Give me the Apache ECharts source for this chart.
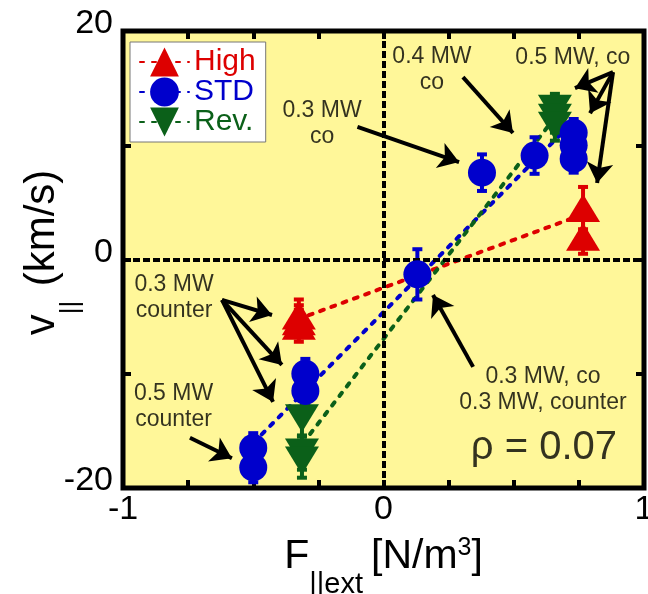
<!DOCTYPE html>
<html><head><meta charset="utf-8">
<script src="https://cdn.jsdelivr.net/npm/echarts@6/dist/echarts.min.js"></script>
<style>html,body{margin:0;padding:0;background:#fff}#c{width:648px;height:594px}</style>
</head><body><div id="c"></div>
<script>
// ---- data ----
const xTickLabels = [-1, 0, 1];
const yTickLabels = [-20, 0, 20];
// points: [F_||ext, v_||, error]
const highPts = [[-0.325,-4.9,1.4],[-0.325,-5.4,1.4],[-0.325,-5.8,1.4],[0.766,4.5,1.85],[0.766,2.0,1.5]];
const stdPts  = [[-0.5,-16.5,1.3],[-0.5,-18.2,1.3],[-0.3,-10.0,1.3],[-0.3,-11.5,1.3],[0.13,-1.3,2.2],[0.378,7.6,1.6],[0.58,9.1,1.6],[0.73,11.1,1.2],[0.73,10.0,1.2],[0.73,8.8,1.2]];
const revPts  = [[-0.313,-13.9,1.6],[-0.313,-16.9,1.5],[-0.313,-17.6,1.5],[0.658,13.2,1.3],[0.658,12.4,1.3],[0.658,11.7,1.3]];
// linear fits (end points)
const highFit = [[-0.33,-5.24],[0.766,3.95]];
const stdFit  = [[-0.5,-16.05],[0.73,12.1]];
const revFit  = [[-0.31,-16.1],[0.66,12.5]];
// annotations
const notes = [
  ['0.3 MW\nco', -0.236, 11.9],
  ['0.4 MW\nco', 0.186, 16.6],
  ['0.5 MW, co', 0.727, 17.7],
  ['0.3 MW\ncounter', -0.804, -3.3],
  ['0.5 MW\ncounter', -0.806, -12.9],
  ['0.3 MW, co\n0.3 MW, counter', 0.612, -11.4]
];
const rhoNote = ['ρ = 0.07', 0.616, -16.5];
const arrows = [
  [[-0.10,11.6],[0.29,8.53]],
  [[0.305,15.97],[0.497,11.07]],
  [[0.881,16.4],[0.735,15.0]],
  [[0.881,16.4],[0.793,12.8]],
  [[0.881,16.4],[0.820,6.7]],
  [[-0.62,-3.54],[-0.428,-4.86]],
  [[-0.62,-3.54],[-0.39,-9.23]],
  [[-0.62,-3.54],[-0.424,-12.47]],
  [[-0.743,-15.6],[-0.582,-17.4]],
  [[0.344,-9.4],[0.19,-3.1]]
];

// ---- styles ----
const FF = 'Liberation Sans, Arial, Helvetica, sans-serif';
const RED = '#DD0000', BLUE = '#0000CC', GREEN = '#0B6019';
const DOWN = 'path://M0,0L20,0L10,17Z';

function errRender(color){
  return function(params, api){
    const x = api.value(0), y = api.value(1), e = api.value(2);
    const t = api.coord([x, y + e]), b = api.coord([x, y - e]);
    const hw = 5, st = {stroke: color, lineWidth: 4};
    return {type:'group', children:[
      {type:'line', shape:{x1:t[0],y1:t[1],x2:b[0],y2:b[1]}, style:st},
      {type:'line', shape:{x1:t[0]-hw,y1:t[1],x2:t[0]+hw,y2:t[1]}, style:st},
      {type:'line', shape:{x1:b[0]-hw,y1:b[1],x2:b[0]+hw,y2:b[1]}, style:st}
    ]};
  };
}
function errSeries(pts, color, z){
  return {type:'custom', renderItem: errRender(color), data: pts, z: z, silent: true,
          encode:{x:0, y:1}};
}
function fitSeries(name, pts, color, symbol){
  return {name:name, type:'line', data: pts, showSymbol:false, symbol:symbol, color:color,
          lineStyle:{color:color, width:4, type:[4,8], cap:'round'}, z:2, silent:true};
}
function ptSeries(pts, color, symbol, size, z){
  return {type:'scatter', data: pts.map(p=>[p[0],p[1]]), symbol:symbol, symbolSize:size,
          itemStyle:{color:color, opacity:1}, z:z, silent:true};
}

const chart = echarts.init(document.getElementById('c'), null, {renderer:'canvas'});
const axisCommon = {
  axisLine:{show:false, onZero:false}, splitLine:{show:false}, nameMoveOverlap:false,
  axisTick:{show:true, inside:true, length:8, lineStyle:{color:'#000', width:4}}
};
chart.setOption({
  animation:false,
  backgroundColor:'#fff',
  grid:{left:123, right:4, top:31, bottom:106, show:true, backgroundColor:'#FFF799',
        borderColor:'#000', borderWidth:5, containLabel:false, outerBoundsMode:'none'},
  legend:{
    data:[{name:'High', textStyle:{color:RED}}, {name:'STD', textStyle:{color:BLUE}}, {name:'Rev.', textStyle:{color:GREEN}}],
    orient:'vertical', left:130, top:42, itemGap:0, itemWidth:49, itemHeight:36,
    padding:[5,10,5,9], backgroundColor:'#fff', borderColor:'#777', borderWidth:1,
    textStyle:{fontSize:30, fontFamily:FF}, selectedMode:false
  },
  xAxis:[
    Object.assign({}, axisCommon, {type:'value', position:'bottom', min:-1, max:1, interval:0.25,
      axisLabel:{show:true, margin:5, fontSize:34, fontFamily:FF, color:'#000',
        formatter: v => xTickLabels.includes(v) ? String(v) : ''},
      name:'{a|F}{b|||ext }{a|[N/m}{c|3}{a|]}', nameLocation:'middle', nameGap:48,
      nameTextStyle:{color:'#000', fontFamily:FF, rich:{
        a:{fontSize:41, lineHeight:44, verticalAlign:'top', fontFamily:FF, color:'#000'},
        b:{fontSize:29, lineHeight:29, padding:[34,0,0,0], verticalAlign:'top', fontFamily:FF, color:'#000'},
        c:{fontSize:25, lineHeight:25, padding:[0,0,0,0], verticalAlign:'top', fontFamily:FF, color:'#000'}
      }}}),
    Object.assign({}, axisCommon, {type:'value', position:'top', min:-1, max:1, interval:0.25,
      axisLabel:{show:false}})
  ],
  yAxis:[
    Object.assign({}, axisCommon, {type:'value', position:'left', min:-20, max:20, interval:10,
      axisLabel:{show:true, margin:10, color:'#000',
        formatter: v => yTickLabels.includes(v) ? '{t|' + v + '}' : '',
        rich:{t:{fontSize:34, lineHeight:34, fontFamily:FF, color:'#000', padding:[0,0,14,0]}}},
      name:'{a|v}{b|||  }{a|(km/s)}', nameLocation:'middle', nameGap:58, nameRotate:90,
      nameTextStyle:{color:'#000', fontFamily:FF, padding:[0,0,0,14], rich:{
        a:{fontSize:42, lineHeight:44, verticalAlign:'top', fontFamily:FF, color:'#000'},
        b:{fontSize:26, lineHeight:26, padding:[37,0,0,0], verticalAlign:'top', fontFamily:FF, color:'#000'}
      }}}),
    Object.assign({}, axisCommon, {type:'value', position:'right', min:-20, max:20, interval:10,
      axisLabel:{show:false}})
  ],
  series:[
    {type:'scatter', data:[[0,0]], symbolSize:0, z:1, silent:true,
     markLine:{silent:true, symbol:'none', label:{show:false}, animation:false,
       lineStyle:{color:'#000', width:4, type:[7,3]},
       data:[{xAxis:0},{yAxis:0}]}},
    fitSeries('High', highFit, RED, 'triangle'),
    fitSeries('STD', stdFit, BLUE, 'circle'),
    fitSeries('Rev.', revFit, GREEN, DOWN),
    errSeries(highPts, RED, 3),
    errSeries(revPts, GREEN, 3),
    errSeries(stdPts, BLUE, 3),
    ptSeries(highPts, RED, 'triangle', [34,28], 4),
    ptSeries(revPts, GREEN, DOWN, [34,28], 5),
    ptSeries(stdPts, BLUE, 'circle', 28, 6),
    {type:'scatter', z:7, silent:true, symbolSize:1, itemStyle:{color:'rgba(0,0,0,0)'},
     data: notes.map(n => ({name:n[0], value:[n[1], n[2]]}))
       .concat([{name:rhoNote[0], value:[rhoNote[1], rhoNote[2]], label:{fontSize:40, lineHeight:44}}]),
     label:{show:true, position:'inside', formatter: p => p.name, color:'#000', fontSize:23,
       lineHeight:26, fontFamily:FF, align:'center'},
     markLine:{silent:true, symbol:['none','arrow'], symbolSize:20, label:{show:false}, animation:false,
       lineStyle:{color:'#000', width:4, type:'solid'},
       data: arrows.map(a => [{coord:a[0]}, {coord:a[1]}])}}
  ]
});
</script>
</body></html>
